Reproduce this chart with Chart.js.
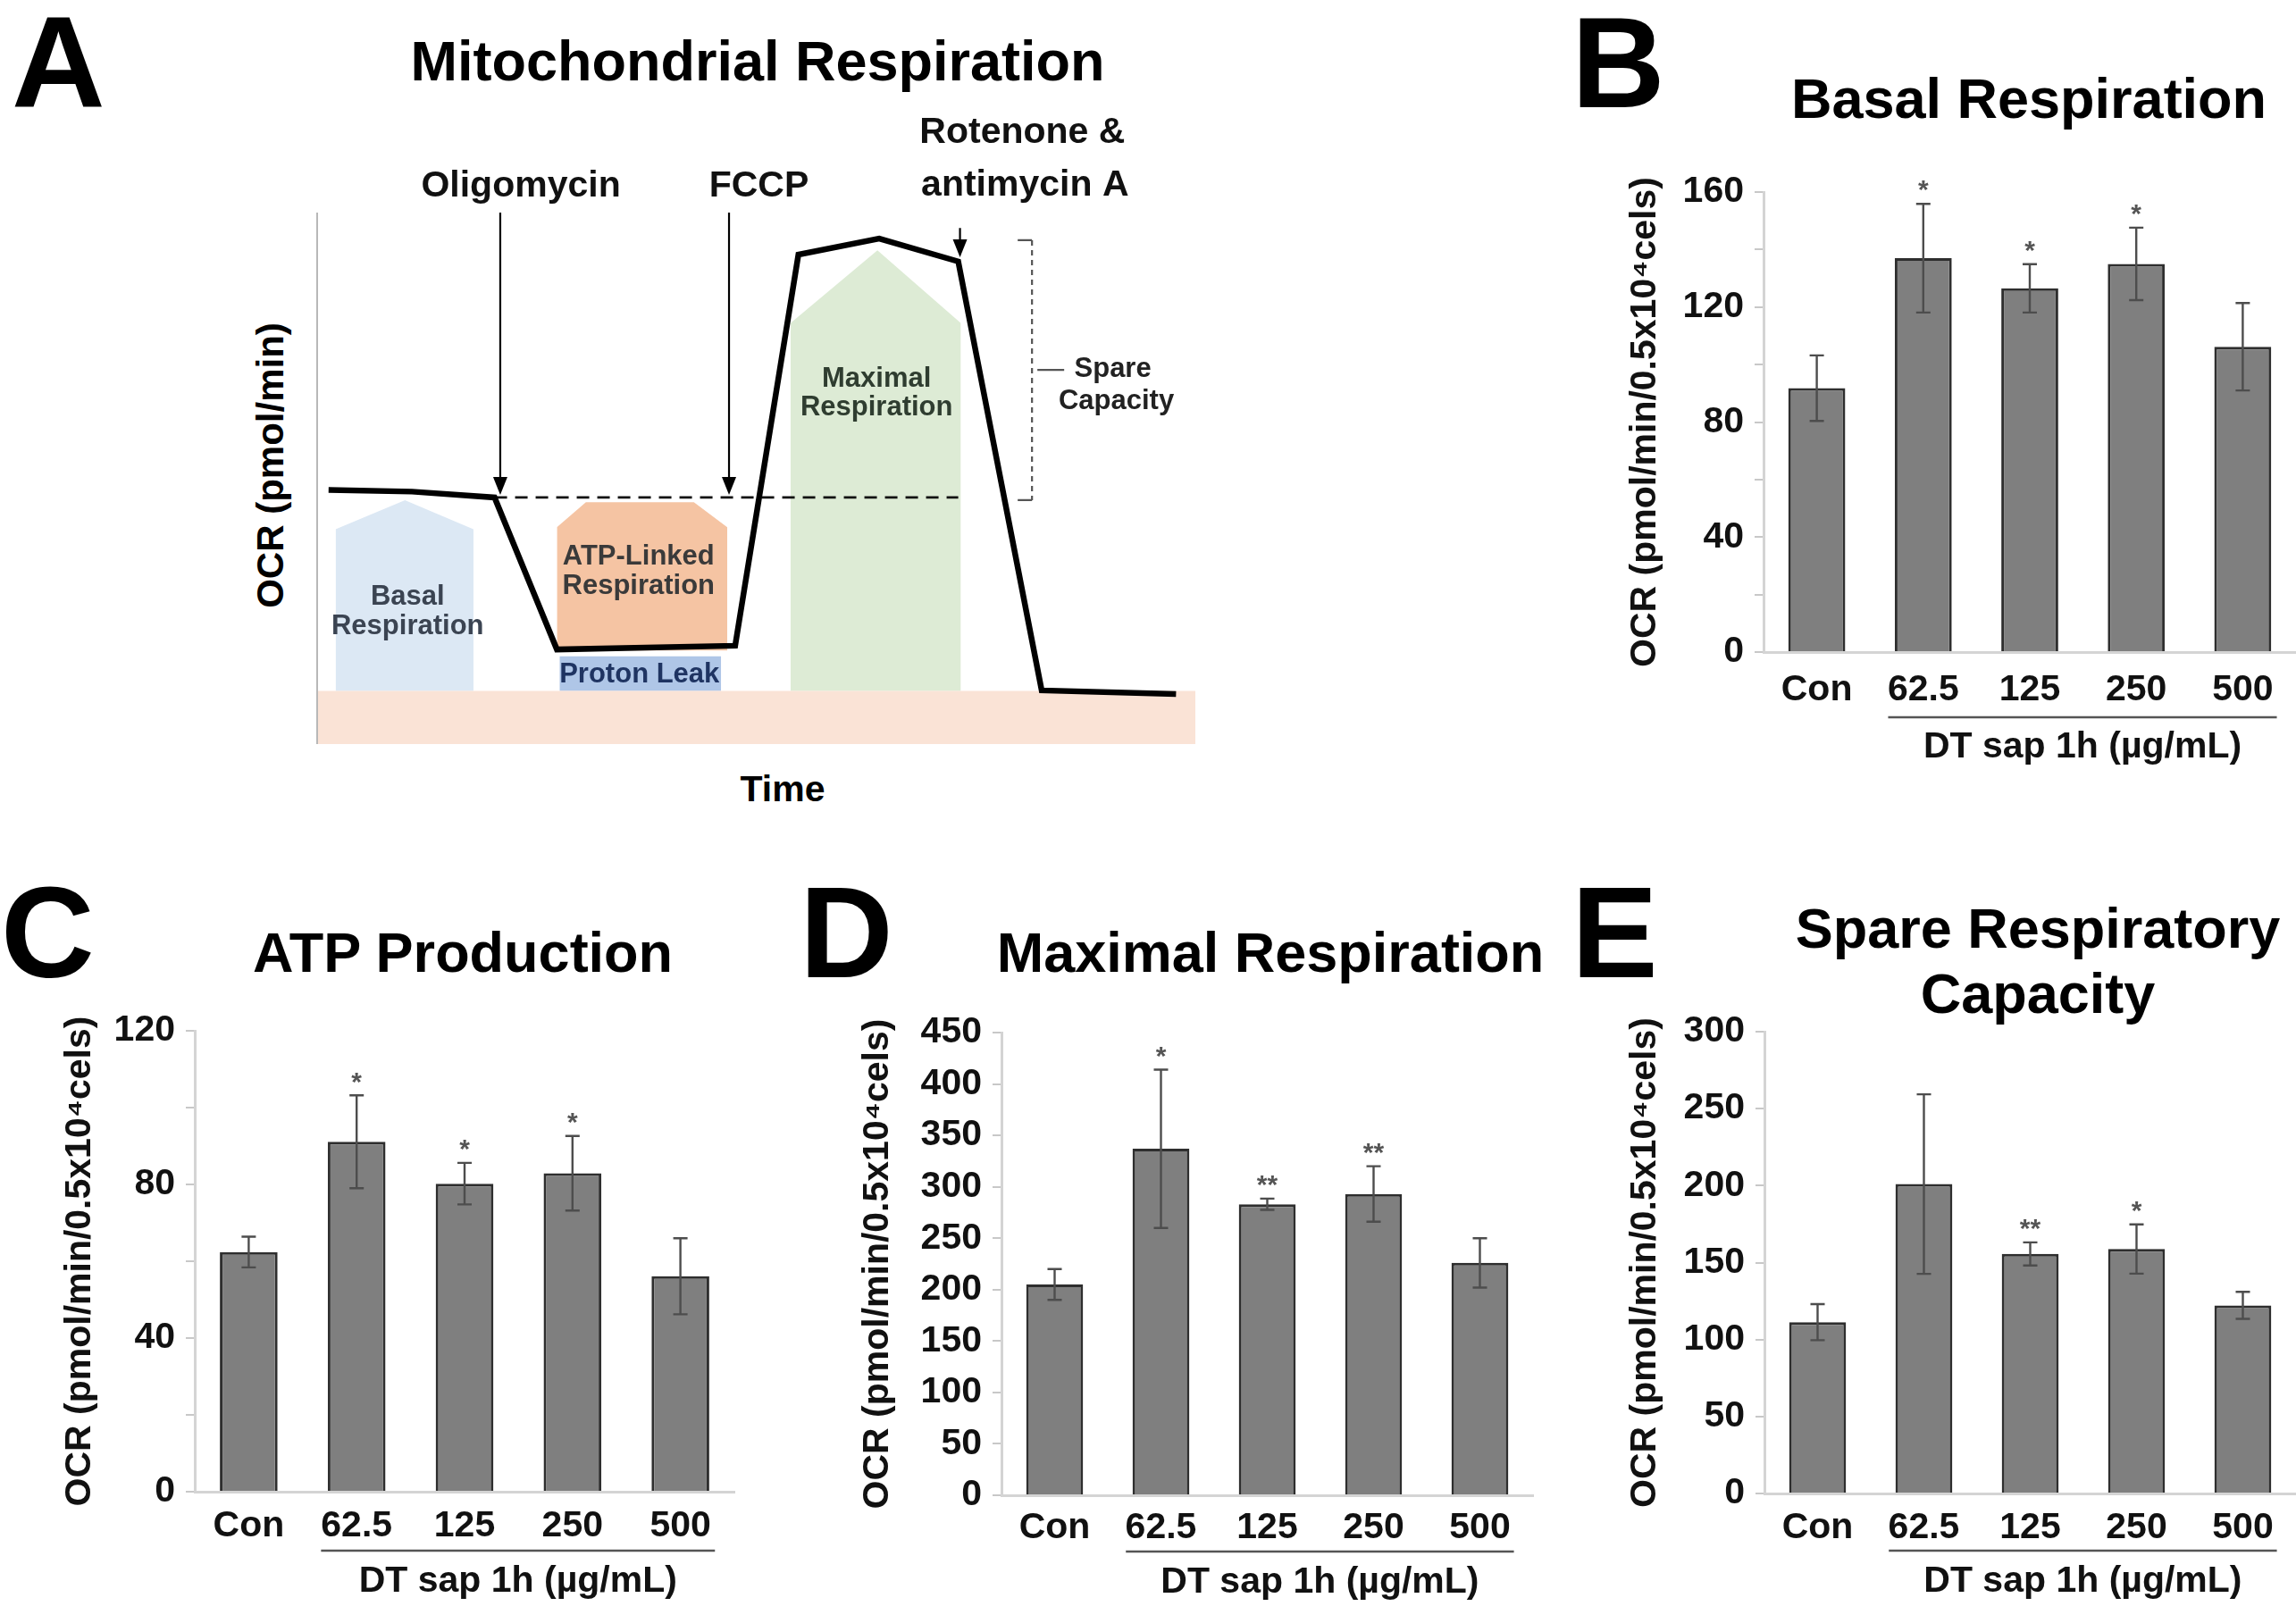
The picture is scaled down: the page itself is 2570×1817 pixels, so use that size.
<!DOCTYPE html>
<html>
<head>
<meta charset="utf-8">
<script src="https://cdn.jsdelivr.net/npm/chart.js@4.4.1/dist/chart.umd.min.js"></script>
<style>
  html, body { margin: 0; padding: 0; background: #fff; }
  body { width: 2570px; height: 1817px; position: relative; overflow: hidden;
         font-family: "Liberation Sans", Arial, Helvetica, sans-serif; }
  .t { position: absolute; white-space: nowrap; line-height: 1; font-weight: bold; color: #000;
       transform: translate(-50%, -50%); }
  .L { position: absolute; white-space: nowrap; line-height: 1; font-weight: bold; color: #000; font-size: 145px; }
  canvas { position: absolute; }
</style>
</head>
<body>
<div class="L" style="left:13px; top:-3px;">A</div>
<div class="L" style="left:1759px; top:-2px;">B</div>
<div class="L" style="left:1px; top:972px;">C</div>
<div class="L" style="left:895px; top:972px;">D</div>
<div class="L" style="left:1759px; top:972px;">E</div>

<div class="t" style="left:848px; top:68px; font-size:63px;">Mitochondrial Respiration</div>
<div class="t" style="left:2271px; top:110px; font-size:63px;">Basal Respiration</div>
<div class="t" style="left:518px; top:1066px; font-size:63px;">ATP Production</div>
<div class="t" style="left:1422px; top:1066px; font-size:63px;">Maximal Respiration</div>
<div class="t" style="left:2281px; top:1039px; font-size:63px;">Spare Respiratory</div>
<div class="t" style="left:2281px; top:1112px; font-size:63px;">Capacity</div>

<div class="t" style="left:303px; top:521px; font-size:42px; transform: translate(-50%,-50%) rotate(-90deg);">OCR (pmol/min)</div>
<div class="t" style="left:876px; top:883px; font-size:41px;">Time</div>

<script>
// ---------------- Panel A : schematic Seahorse trace (arbitrary units) ----------------
const traceTime = [1.3, 10.8, 20.2, 27.3, 47.6, 54.8, 64.0, 73.0, 82.5, 97.8];
const traceOCR  = [47.8, 47.5, 46.4, 17.8, 18.5, 92.1, 95.1, 90.8, 10.1, 9.4];
const basalLineTime = [20.2, 73.0];
const basalLineOCR  = [46.4, 46.4];
const nonMitoTime = [0, 100];
const nonMitoOCR  = [10, 10];
const basalShapeTime = [2.1, 2.1, 10.0, 17.8, 17.8];
const basalShapeOCR  = [10, 40.4, 45.9, 40.4, 10];
const atpShapeTime = [27.3, 27.3, 30.6, 42.9, 46.7, 46.7];
const atpShapeOCR  = [17.6, 40.8, 45.5, 45.5, 40.8, 17.6];
const leakShapeTime = [27.6, 27.6, 46.0, 46.0];
const leakShapeOCR  = [10, 16.5, 16.5, 10];
const maxShapeTime = [53.9, 53.9, 63.8, 73.3, 73.3];
const maxShapeOCR  = [10, 79.2, 92.9, 79.2, 10];
const injectionTime = [20.85, 46.9, 73.2];
const arrowFromOCR  = [100, 100, 97.1];
const arrowToOCR    = [46.9, 46.9, 91.6];
const spareTime = 81.4;
const spareRange = [45.9, 94.8];

// ---------------- Panels B–E : bar data ----------------
const doseLabels = ['Con', '62.5', '125', '250', '500'];
const basalMean = [91.8, 137.0, 126.5, 135.0, 106.2];
const basalErr  = [11.4, 18.9, 8.4, 12.6, 15.2];
const basalSig  = ['', '*', '*', '*', ''];
const atpMean = [62.4, 91.1, 80.2, 82.9, 56.1];
const atpErr  = [4.0, 12.1, 5.4, 9.7, 9.9];
const atpSig  = ['', '*', '*', '*', ''];
const maxMean = [205, 337, 283, 293, 226];
const maxErr  = [15, 77, 5.5, 27, 24];
const maxSig  = ['', '*', '**', '**', ''];
const spareMean = [111.3, 201.0, 155.6, 158.8, 122.2];
const spareErr  = [11.7, 58.3, 7.5, 16.0, 8.8];
const spareSig  = ['', '', '**', '*', ''];
const basalTicks = { max: 160, step: 20, labelEvery: 40 };
const atpTicks   = { max: 120, step: 20, labelEvery: 40 };
const maxTicks   = { max: 450, step: 50, labelEvery: 50 };
const spareTicks = { max: 300, step: 50, labelEvery: 50 };
const yTitle = 'OCR (pmol/min/0.5x10\u2074cels)';
const groupTitle = 'DT sap 1h (\u00b5g/mL)';

const FAM = '"Liberation Sans", Arial, Helvetica, sans-serif';
Chart.defaults.font.family = FAM;

function makeCanvas(id, left, top, w, h) {
  const c = document.createElement('canvas');
  c.id = id; c.width = w; c.height = h;
  c.style.left = left + 'px'; c.style.top = top + 'px';
  c.style.width = w + 'px'; c.style.height = h + 'px';
  document.body.appendChild(c);
  return c;
}
const pts = (xs, ys) => xs.map((v, i) => ({ x: v, y: ys[i] }));

// ---------- Panel A ----------
const aNotes = [
  { t: 'Oligomycin', x: 23.2, y: 103.0, size: 41, color: '#111' },
  { t: 'FCCP', x: 50.3, y: 103.0, size: 41, color: '#111' },
  { t: 'Rotenone &', x: 80.3, y: 113.1, size: 41, color: '#111' },
  { t: 'antimycin A', x: 80.6, y: 103.2, size: 41, color: '#111' },
  { t: 'Basal', x: 10.3, y: 26.2, size: 31, color: '#3b4452' },
  { t: 'Respiration', x: 10.3, y: 20.7, size: 31, color: '#3b4452' },
  { t: 'ATP-Linked', x: 36.6, y: 33.8, size: 31, color: '#3a3a3a' },
  { t: 'Respiration', x: 36.6, y: 28.2, size: 31, color: '#3a3a3a' },
  { t: 'Proton Leak', x: 36.7, y: 11.6, size: 31, color: '#1f3462' },
  { t: 'Maximal', x: 63.7, y: 67.2, size: 31, color: '#2f3d30' },
  { t: 'Respiration', x: 63.7, y: 61.8, size: 31, color: '#2f3d30' },
  { t: 'Spare', x: 90.6, y: 69.1, size: 31, color: '#222' },
  { t: 'Capacity', x: 91.0, y: 63.0, size: 31, color: '#222' }
];

const aDecor = {
  id: 'aDecor',
  afterDatasetsDraw(chart) {
    const { ctx } = chart;
    const xs = chart.scales.x, ys = chart.scales.y;
    const X = v => xs.getPixelForValue(v), Y = v => ys.getPixelForValue(v);
    ctx.save();
    ctx.strokeStyle = '#b8b8b8'; ctx.lineWidth = 2;
    ctx.beginPath(); ctx.moveTo(X(0), Y(100)); ctx.lineTo(X(0), Y(0)); ctx.stroke();
    ctx.strokeStyle = '#000'; ctx.fillStyle = '#000'; ctx.lineWidth = 2.2;
    injectionTime.forEach((t, i) => {
      const px = X(t), y0 = Y(arrowFromOCR[i]), y1 = Y(arrowToOCR[i]);
      ctx.beginPath(); ctx.moveTo(px, y0); ctx.lineTo(px, y1 - 16); ctx.stroke();
      ctx.beginPath(); ctx.moveTo(px, y1); ctx.lineTo(px - 8, y1 - 20); ctx.lineTo(px + 8, y1 - 20); ctx.closePath(); ctx.fill();
    });
    const bx = X(spareTime), bt = Y(spareRange[1]), bb = Y(spareRange[0]);
    ctx.strokeStyle = '#555'; ctx.lineWidth = 2.2; ctx.setLineDash([6, 5]);
    ctx.beginPath(); ctx.moveTo(bx, bt); ctx.lineTo(bx, bb); ctx.stroke();
    ctx.setLineDash([]);
    ctx.beginPath();
    ctx.moveTo(bx - 16, bt); ctx.lineTo(bx, bt);
    ctx.moveTo(bx - 16, bb); ctx.lineTo(bx, bb);
    ctx.moveTo(bx + 6, Y(70.4)); ctx.lineTo(bx + 36, Y(70.4));
    ctx.stroke();
    ctx.textAlign = 'center'; ctx.textBaseline = 'alphabetic';
    aNotes.forEach(n => {
      ctx.font = 'bold ' + n.size + 'px ' + FAM;
      ctx.fillStyle = n.color;
      ctx.fillText(n.t, X(n.x), Y(n.y));
    });
    ctx.restore();
  }
};

const aCanvas = makeCanvas('panelA', 0, 0, 1360, 940);
new Chart(aCanvas, {
  type: 'scatter',
  data: {
    datasets: [
      { data: pts(basalShapeTime, basalShapeOCR), showLine: true, borderWidth: 0, pointRadius: 0,
        fill: { value: 10 }, backgroundColor: '#dce8f4', order: 6 },
      { data: pts(atpShapeTime, atpShapeOCR), showLine: true, borderWidth: 0, pointRadius: 0,
        fill: { value: 17.6 }, backgroundColor: '#f5c4a3', order: 6 },
      { data: pts(leakShapeTime, leakShapeOCR), showLine: true, borderWidth: 0, pointRadius: 0,
        fill: { value: 10 }, backgroundColor: '#afc6e7', order: 6 },
      { data: pts(maxShapeTime, maxShapeOCR), showLine: true, borderWidth: 0, pointRadius: 0,
        fill: { value: 10 }, backgroundColor: '#ddebd5', order: 6 },
      { data: pts(nonMitoTime, nonMitoOCR), showLine: true, borderWidth: 0, pointRadius: 0,
        fill: 'origin', backgroundColor: '#fae3d6', order: 5 },
      { data: pts(basalLineTime, basalLineOCR), showLine: true, borderWidth: 2.6, borderColor: '#111',
        borderDash: [14, 9], pointRadius: 0, fill: false, order: 2 },
      { data: pts(traceTime, traceOCR), showLine: true, borderWidth: 6.5, borderColor: '#000',
        pointRadius: 0, fill: false, tension: 0, order: 1, clip: false }
    ]
  },
  options: {
    responsive: false, devicePixelRatio: 1, animation: false,
    layout: { padding: { left: 355, top: 238, right: 22, bottom: 107 } },
    plugins: { legend: { display: false }, tooltip: { enabled: false } },
    scales: {
      x: { type: 'linear', min: 0, max: 100, display: false },
      y: { type: 'linear', min: 0, max: 100, display: false }
    }
  },
  plugins: [aDecor]
});

// ---------- Bar panels ----------
const errPlugin = {
  id: 'errBars',
  afterDatasetsDraw(chart, args, o) {
    const { ctx, chartArea } = chart;
    const xs = chart.scales.x, ys = chart.scales.y;
    const meta = chart.getDatasetMeta(0);
    ctx.save();
    meta.data.forEach((bar, i) => {
      const m = o.mean[i], e = o.err[i];
      const yt = ys.getPixelForValue(m + e), yb = ys.getPixelForValue(m - e);
      const cx = bar.x, cap = 8;
      ctx.strokeStyle = '#4d4d4d'; ctx.lineWidth = 2.4;
      ctx.beginPath();
      ctx.moveTo(cx, yt); ctx.lineTo(cx, yb);
      ctx.moveTo(cx - cap, yt); ctx.lineTo(cx + cap, yt);
      ctx.moveTo(cx - cap, yb); ctx.lineTo(cx + cap, yb);
      ctx.stroke();
      if (o.sig[i]) {
        ctx.fillStyle = '#555';
        ctx.font = 'bold 30px ' + FAM;
        ctx.textAlign = 'center'; ctx.textBaseline = 'middle';
        ctx.fillText(o.sig[i], cx, yt - 14);
      }
    });
    const cw = xs.getPixelForValue(1) - xs.getPixelForValue(0);
    const x1 = xs.getPixelForValue(1) - 0.33 * cw, x2 = xs.getPixelForValue(4) + 0.32 * cw;
    const yl = chartArea.bottom + o.lineOff;
    ctx.strokeStyle = '#555'; ctx.lineWidth = 2.5;
    ctx.beginPath(); ctx.moveTo(x1, yl); ctx.lineTo(x2, yl); ctx.stroke();
    ctx.fillStyle = '#111'; ctx.font = 'bold 41px ' + FAM;
    ctx.textAlign = 'center'; ctx.textBaseline = 'middle';
    ctx.fillText(groupTitle, (x1 + x2) / 2, chartArea.bottom + o.textOff);
    ctx.restore();
  }
};

function barPanel(p) {
  const cv = makeCanvas(p.id, p.left, p.top, p.w, p.h);
  const tickFont = { family: FAM, size: 41, weight: 'bold' };
  new Chart(cv, {
    type: 'bar',
    data: {
      labels: doseLabels,
      datasets: [{ data: p.mean, backgroundColor: '#7f7f7f', borderColor: '#2e2e2e', borderWidth: 3,
                   categoryPercentage: 1, barPercentage: 0.535 }]
    },
    options: {
      responsive: false, devicePixelRatio: 1, animation: false,
      layout: { padding: { left: 0, top: p.padTop, right: p.padRight, bottom: 0 } },
      plugins: { legend: { display: false }, tooltip: { enabled: false },
                 errBars: { mean: p.mean, err: p.err, sig: p.sig, lineOff: p.lineOff, textOff: p.textOff } },
      scales: {
        x: {
          offset: true,
          grid: { display: false, drawTicks: false },
          border: { display: true, color: '#d4d4d4', width: 3 },
          ticks: { color: '#111', font: tickFont, padding: p.labelPad, maxRotation: 0, autoSkip: false },
          afterFit: s => { s.height = p.xH; }
        },
        y: {
          min: 0, max: p.ticks.max,
          grid: { display: true, drawOnChartArea: false, drawTicks: true, tickLength: 10,
                  color: '#c8c8c8', lineWidth: 2 },
          border: { display: true, color: '#d4d4d4', width: 3 },
          ticks: { stepSize: p.ticks.step, autoSkip: false, color: '#111', font: tickFont, padding: 12,
                   callback: v => (v % p.ticks.labelEvery === 0 ? String(v) : '') },
          title: { display: true, text: yTitle, color: '#111', font: tickFont,
                   padding: { top: p.titlePad, bottom: 0 } },
          afterFit: s => { s.width = p.yW; }
        }
      }
    },
    plugins: [errPlugin]
  });
}

barPanel({ id: 'panelB', left: 1790, top: 150, w: 780, h: 720, padTop: 65, padRight: 0, yW: 184, xH: 140,
           titlePad: 27.4, labelPad: 18, lineOff: 73, textOff: 107,
           mean: basalMean, err: basalErr, sig: basalSig, ticks: basalTicks });
barPanel({ id: 'panelC', left: 0, top: 1110, w: 850, h: 707, padTop: 44, padRight: 28, yW: 218, xH: 147,
           titlePad: 65.4, labelPad: 14, lineOff: 66, textOff: 101,
           mean: atpMean, err: atpErr, sig: atpSig, ticks: atpTicks });
barPanel({ id: 'panelD', left: 880, top: 1110, w: 860, h: 707, padTop: 46, padRight: 24, yW: 241, xH: 143,
           titlePad: 78.4, labelPad: 12, lineOff: 63, textOff: 98,
           mean: maxMean, err: maxErr, sig: maxSig, ticks: maxTicks });
barPanel({ id: 'panelE', left: 1760, top: 1110, w: 810, h: 707, padTop: 45, padRight: 0, yW: 215, xH: 145,
           titlePad: 57.4, labelPad: 14, lineOff: 64, textOff: 99,
           mean: spareMean, err: spareErr, sig: spareSig, ticks: spareTicks });
</script>
</body>
</html>
